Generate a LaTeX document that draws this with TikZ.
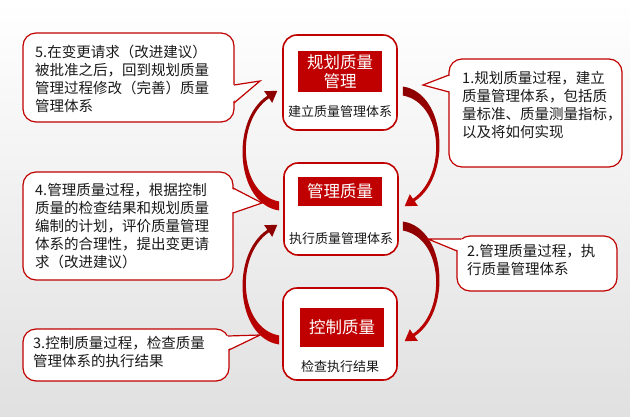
\documentclass[tikz,border=0pt]{standalone}
\usepackage{fontspec}
\setmainfont{Noto Sans CJK SC}
\usetikzlibrary{calc}
\definecolor{mred}{RGB}{192,0,0}
\definecolor{dred}{RGB}{140,0,0}
\definecolor{txt}{RGB}{25,25,25}
\begin{document}
\begin{tikzpicture}[x=1pt,y=-1pt,
 cbox/.style={draw=mred, line width=1.2pt, fill=white, rounded corners=13pt, inner sep=0pt},
 ctext/.style={anchor=north west, inner sep=0pt, align=left, text=txt, font=\fontsize{14.5}{18}\selectfont},
 mbox/.style={draw=mred, line width=1.6pt, fill=white, rounded corners=14pt, inner sep=0pt, minimum width=114pt},
 tbox/.style={fill=mred, text=white, inner sep=0pt, minimum width=84pt, align=center, font=\fontsize{16.5}{18.5}\selectfont},
 subtext/.style={inner sep=0pt, text=txt, font=\fontsize{13}{15}\selectfont},
 ptr/.style={draw=mred, line width=1.2pt, line join=miter},
 bendfill/.style={top color=dred, middle color=mred!78!white, bottom color=mred},
 qarrow/.pic={\path[bendfill] (0,-4.5) .. controls (44,2) and (49,86) .. (11.85,110.2)
   -- (15,114.8) -- (1.9,115.2) -- (7,103.2) -- (10.15,107.8)
   .. controls (44,85) and (41,12) .. (0,4.5) -- cycle;}
]
\shade[top color=white, bottom color=black!12] (0,0) rectangle (630,416);
\useasboundingbox (0,0) rectangle (630,416);

% centre boxes
\node[mbox, minimum height=95pt] (b1) at (340,82.5) {};
\node[tbox, minimum height=41pt] (t1) at (340,71.5) {规划质量\\管理};
\node[subtext] (s1) at (340,112) {建立质量管理体系};
\node[mbox, minimum height=92pt] (b2) at (341,209) {};
\node[tbox, minimum height=29pt] (t2) at (340,191.5) {管理质量};
\node[subtext] (s2) at (341,239) {执行质量管理体系};
\node[mbox, minimum height=92pt] (b3) at (340,334) {};
\node[tbox, minimum height=39pt] (t3) at (342,327.5) {控制质量};
\node[subtext] (s3) at (340,367) {检查执行结果};

% curved arrows
\pic at ($(b1.east)+(5,8.5)$) {qarrow};
\pic at ($(b2.east)+(4,17)$) {qarrow};
\pic[rotate=180] at ($(b2.west)+(-4,-3)$) {qarrow};
\pic[rotate=180] at ($(b3.west)+(-3,6)$) {qarrow};

% callout 5
\node[cbox, minimum width=211pt, minimum height=89pt] (c5) at (128.5,77.5) {};
\fill[white] (260,81) -- (231,85) -- (231,103) -- cycle;
\draw[ptr] (234,85) -- (260,81) -- (234,103);
\node[ctext] (c5t) at (35,45) {5.在变更请求（改进建议）\\被批准之后，回到规划质量\\管理过程修改（完善）质量\\管理体系};

% callout 4
\node[cbox, minimum width=210pt, minimum height=108pt] (c4) at (128,226) {};
\fill[white] (262,203) -- (230,188) -- (230,213) -- cycle;
\draw[ptr] (233,188) -- (262,203) -- (233,213);
\node[ctext] (c4t) at (35,183) {4.管理质量过程，根据控制\\质量的检查结果和规划质量\\编制的计划，评价质量管理\\体系的合理性，提出变更请\\求（改进建议）};

% callout 3
\node[cbox, minimum width=206pt, minimum height=52pt] (c3) at (126,355) {};
\fill[white] (260,335) -- (224.9,336) -- (226,350) -- cycle;
\draw[ptr] (227.9,336) -- (260,335) -- (229,350);
\node[ctext] (c3t) at (33,336) {3.控制质量过程，检查质量\\管理体系的执行结果};

% callout 1
\node[cbox, minimum width=173pt, minimum height=108pt] (c1) at (535.5,113) {};
\fill[white] (423,85) -- (452,75) -- (452,92) -- cycle;
\draw[ptr] (449,75) -- (423,85) -- (449,92);
\node[ctext] (c1t) at (462,71) {1.规划质量过程，建立\\质量管理体系，包括质\\量标准、质量测量指标，\\以及将如何实现};

% callout 2
\node[cbox, minimum width=160pt, minimum height=55pt] (c2) at (537,263.5) {};
\fill[white] (428,239) -- (464,239.5) -- (460,251) -- cycle;
\draw[ptr] (461,239) -- (428,239) -- (457,251);
\node[ctext] (c2t) at (467,244) {2.管理质量过程，执\\行质量管理体系};
\end{tikzpicture}
\end{document}
